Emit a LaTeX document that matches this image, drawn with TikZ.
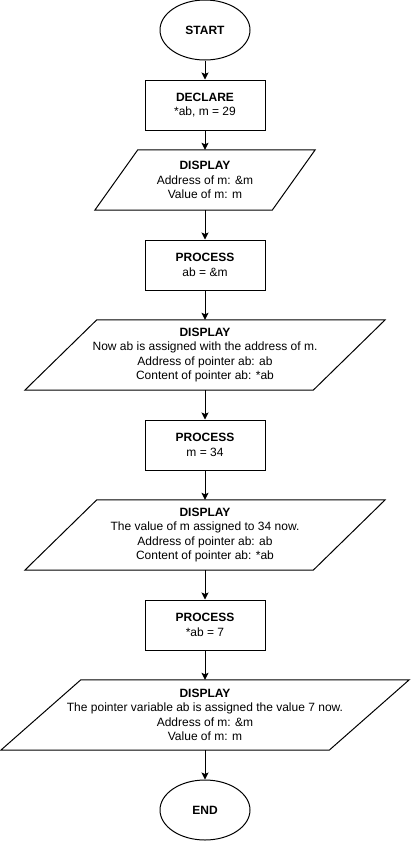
\documentclass[tikz,border=0pt]{standalone}
\usepackage{fontspec}
\setmainfont{Liberation Sans}
\usetikzlibrary{shapes.geometric,arrows.meta}
\begin{document}
\begin{tikzpicture}[x=1pt,y=-1pt,
  every node/.style={font=\fontsize{12}{14.3}\selectfont, align=center, inner sep=0pt},
  term/.style={ellipse, draw, line width=1pt, minimum width=90pt, minimum height=60pt},
  proc/.style={rectangle, draw, line width=1pt, minimum width=120pt, minimum height=50pt},
  io/.style={rectangle, minimum height=#1},
  arr/.style={line width=1pt, -{Stealth[length=7pt,width=7pt,inset=1.5pt]}},
  par/.style={line width=1pt, line join=miter}]
\useasboundingbox (0,0) rectangle (411,841);
\node[term] (start) at (205,30) {\textbf{START}};
\node[proc] (decl) at (205,105) {\textbf{DECLARE}\\*ab, m = 29};
\node[io=60pt, minimum width=177pt] (d1) at (205,180) {\textbf{DISPLAY}\\Address of m: \&m\\Value of m: m};
\draw[par] ([xshift=21.5pt]d1.north west) -- ([xshift=21.5pt]d1.north east) -- ([xshift=-21.5pt]d1.south east) -- ([xshift=-21.5pt]d1.south west) -- cycle;
\node[proc] (p1) at (205,265) {\textbf{PROCESS}\\ab = \&m};
\node[io=70pt, minimum width=288pt] (d2) at (205,355) {\textbf{DISPLAY}\\Now ab is assigned with the address of m.\\Address of pointer ab: ab\\Content of pointer ab: *ab};
\draw[par] ([xshift=36pt]d2.north west) -- ([xshift=36pt]d2.north east) -- ([xshift=-36pt]d2.south east) -- ([xshift=-36pt]d2.south west) -- cycle;
\node[proc] (p2) at (205,445) {\textbf{PROCESS}\\m = 34};
\node[io=70pt, minimum width=288pt] (d3) at (205,535) {\textbf{DISPLAY}\\The value of m assigned to 34 now.\\Address of pointer ab: ab\\Content of pointer ab: *ab};
\draw[par] ([xshift=36pt]d3.north west) -- ([xshift=36pt]d3.north east) -- ([xshift=-36pt]d3.south east) -- ([xshift=-36pt]d3.south west) -- cycle;
\node[proc] (p3) at (205,625) {\textbf{PROCESS}\\*ab = 7};
\node[io=70pt, minimum width=328pt] (d4) at (205,715) {\textbf{DISPLAY}\\The pointer variable ab is assigned the value 7 now.\\Address of m: \&m\\Value of m: m};
\draw[par] ([xshift=40pt]d4.north west) -- ([xshift=40pt]d4.north east) -- ([xshift=-40pt]d4.south east) -- ([xshift=-40pt]d4.south west) -- cycle;
\node[term] (end) at (205,810) {\textbf{END}};
\draw[arr] (start) -- (decl);
\draw[arr] (decl) -- (d1);
\draw[arr] (d1) -- (p1);
\draw[arr] (p1) -- (d2);
\draw[arr] (d2) -- (p2);
\draw[arr] (p2) -- (d3);
\draw[arr] (d3) -- (p3);
\draw[arr] (p3) -- (d4);
\draw[arr] (d4) -- (end);
\end{tikzpicture}
\end{document}
